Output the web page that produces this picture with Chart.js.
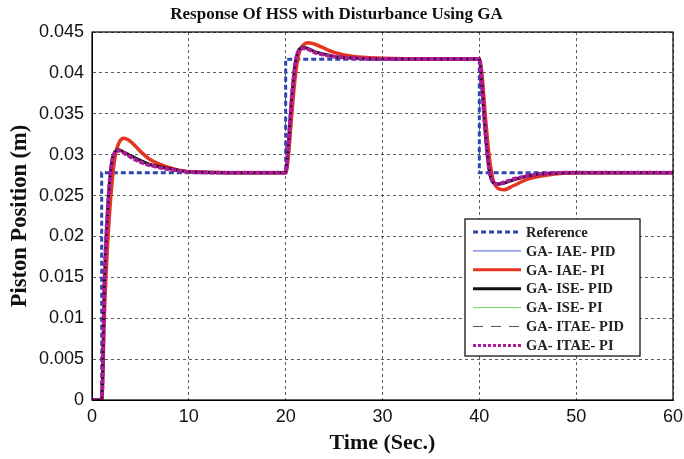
<!DOCTYPE html>
<html>
<head>
<meta charset="utf-8">
<script src="https://cdn.jsdelivr.net/npm/chart.js@4.4.0/dist/chart.umd.min.js"></script>
<style>
  html, body { margin: 0; padding: 0; background: #fff; }
  #wrap { width: 684px; height: 459px; }
</style>
</head>
<body>
<div id="wrap"><canvas id="hssChart" width="684" height="459"></canvas></div>
<script>
// step reference
var refTime = [0, 1, 1, 20, 20, 40, 40, 60];
var refVals = [0, 0, 0.02778, 0.02778, 0.04167, 0.04167, 0.02778, 0.02778];

// controller responses
var respTime = [0, 1, 1.3, 1.6, 2.0, 2.4, 2.8, 3.3, 4, 5, 6, 8, 10, 14, 20,
    20.3, 20.6, 21, 21.4, 21.8, 22.3, 23, 24, 25, 27, 30, 35, 40,
    40.3, 40.6, 41, 41.4, 41.9, 42.5, 43.5, 45, 47, 50, 60];
var iaePid = [0, 0, 0.0150, 0.0228, 0.0287, 0.0303, 0.0305, 0.0302, 0.0297, 0.0291, 0.0287, 0.0282, 0.0279, 0.0278, 0.0278,
    0.0316, 0.0366, 0.0412, 0.0428, 0.0431, 0.0429, 0.0425, 0.0422, 0.0420, 0.0418, 0.0417, 0.0417, 0.0417,
    0.0380, 0.0330, 0.0283, 0.0267, 0.0264, 0.0266, 0.0270, 0.0274, 0.0277, 0.0278, 0.0278];
var iaePi = [0, 0, 0.0112, 0.0188, 0.0257, 0.0299, 0.0315, 0.0320, 0.0316, 0.0304, 0.0294, 0.0284, 0.0279, 0.0278, 0.0278,
    0.0300, 0.0345, 0.0396, 0.0425, 0.0434, 0.0437, 0.0435, 0.0430, 0.0425, 0.0420, 0.0418, 0.0417, 0.0417,
    0.0395, 0.0350, 0.0300, 0.0270, 0.0259, 0.0257, 0.0262, 0.0270, 0.0275, 0.0278, 0.0278];
var isePid = [0, 0, 0.0152, 0.0230, 0.0288, 0.0304, 0.0306, 0.0303, 0.0299, 0.0293, 0.0288, 0.0283, 0.0279, 0.0278, 0.0278,
    0.0317, 0.0367, 0.0413, 0.0429, 0.0431, 0.0430, 0.0426, 0.0423, 0.0420, 0.0418, 0.0417, 0.0417, 0.0417,
    0.0379, 0.0329, 0.0282, 0.0266, 0.0264, 0.0265, 0.0269, 0.0274, 0.0277, 0.0278, 0.0278];
var isePi = [0, 0, 0.0148, 0.0226, 0.0286, 0.0302, 0.0305, 0.0302, 0.0297, 0.0291, 0.0287, 0.0282, 0.0279, 0.0278, 0.0278,
    0.0315, 0.0365, 0.0411, 0.0427, 0.0431, 0.0429, 0.0425, 0.0422, 0.0420, 0.0418, 0.0417, 0.0417, 0.0417,
    0.0381, 0.0331, 0.0284, 0.0267, 0.0264, 0.0266, 0.0270, 0.0274, 0.0277, 0.0278, 0.0278];
var itaePid = isePid;
var itaePi = [0, 0, 0.0151, 0.0229, 0.0287, 0.0303, 0.0305, 0.0302, 0.0297, 0.0291, 0.0287, 0.0282, 0.0279, 0.0278, 0.0278,
    0.0316, 0.0366, 0.0412, 0.0428, 0.0430, 0.0429, 0.0425, 0.0422, 0.0420, 0.0418, 0.0417, 0.0417, 0.0417,
    0.0380, 0.0330, 0.0283, 0.0267, 0.0264, 0.0266, 0.0270, 0.0274, 0.0277, 0.0278, 0.0278];

var xTicks = [0, 10, 20, 30, 40, 50, 60];
var yTicks = [0, 0.005, 0.01, 0.015, 0.02, 0.025, 0.03, 0.035, 0.04, 0.045];

function pts(ts, vs) {
    return ts.map(function (t, i) { return { x: t, y: vs[i] }; });
}

function series(label, vals, color, width, dash, order) {
    return {
        label: label,
        data: pts(respTime, vals),
        borderColor: color,
        backgroundColor: color,
        borderWidth: width,
        borderDash: dash,
        pointRadius: 0,
        cubicInterpolationMode: "monotone",
        order: order,
        fill: false
    };
}

var datasets = [
    {
        label: "Reference",
        data: pts(refTime, refVals),
        borderColor: "#3046b0",
        backgroundColor: "#3046b0",
        borderWidth: 3,
        borderDash: [5, 3],
        pointRadius: 0,
        tension: 0,
        order: 6,
        fill: false
    },
    series("GA- IAE- PID", iaePid, "#4b5fd6", 1, [], 4),
    series("GA- IAE- PI", iaePi, "#e5341f", 3.5, [], 5),
    series("GA- ISE- PID", isePid, "#111111", 3, [], 1),
    series("GA- ISE- PI", isePi, "#6ee05a", 1, [], 3),
    series("GA- ITAE- PID", itaePid, "#555555", 1.2, [10, 8], 2),
    series("GA- ITAE- PI", itaePi, "#b3199f", 3.8, [5, 1.5], 0)
];

// box around plot + legend inside the axes, matlab style
var boxLegend = {
    id: "boxLegend",
    afterDatasetsDraw: function (chart) {
        var ctx = chart.ctx, a = chart.chartArea;
        ctx.save();
        ctx.strokeStyle = "#000";
        ctx.lineWidth = 1.2;
        ctx.setLineDash([]);
        ctx.strokeRect(a.left, a.top, a.right - a.left, a.bottom - a.top);

        var bx = 465, by = 219, bw = 175, bh = 137;
        ctx.fillStyle = "#fff";
        ctx.fillRect(bx, by, bw, bh);
        ctx.strokeRect(bx, by, bw, bh);
        ctx.font = "bold 14.5px 'Liberation Serif', serif";
        ctx.textBaseline = "middle";
        chart.data.datasets.forEach(function (ds, i) {
            var y = 232 + i * 18.9;
            ctx.strokeStyle = ds.borderColor;
            ctx.lineWidth = Math.min(ds.borderWidth, 3);
            ctx.setLineDash(i === 6 ? [3, 2] : (ds.borderDash || []));
            ctx.beginPath();
            ctx.moveTo(473, y);
            ctx.lineTo(521, y);
            ctx.stroke();
            ctx.fillStyle = "#222";
            ctx.fillText(ds.label, 526, y + 1);
        });
        ctx.restore();
    }
};

new Chart(document.getElementById("hssChart").getContext("2d"), {
    type: "line",
    data: { datasets: datasets },
    options: {
        responsive: false,
        animation: false,
        layout: { padding: { left: 0, right: 11, top: 0, bottom: 0 } },
        plugins: {
            legend: { display: false },
            tooltip: { enabled: false },
            title: {
                display: true,
                text: "Response Of HSS with Disturbance Using GA",
                color: "#111",
                font: { family: "'Liberation Serif', serif", size: 17, weight: "bold" },
                padding: { top: 4, bottom: 7.6 }
            }
        },
        scales: {
            x: {
                type: "linear",
                min: 0,
                max: 60,
                afterBuildTicks: function (s) { s.ticks = xTicks.map(function (v) { return { value: v }; }); },
                afterFit: function (s) { s.height = 59; s.paddingLeft = 0; s.paddingRight = 0; },
                ticks: {
                    color: "#111",
                    font: { family: "'Liberation Sans', Arial, sans-serif", size: 18 },
                    padding: 6,
                    maxRotation: 0
                },
                grid: {
                    color: "#333",
                    lineWidth: 0.8,
                    drawTicks: false
                },
                border: { display: true, color: "#000", dash: [3, 3] },
                title: {
                    display: true,
                    text: "Time (Sec.)",
                    color: "#111",
                    font: { family: "'Liberation Serif', serif", size: 22, weight: "bold" },
                    padding: { top: 0, bottom: 2 }
                }
            },
            y: {
                type: "linear",
                min: 0,
                max: 0.045,
                afterBuildTicks: function (s) { s.ticks = yTicks.map(function (v) { return { value: v }; }); },
                afterFit: function (s) { s.width = 92; },
                ticks: {
                    color: "#111",
                    font: { family: "'Liberation Sans', Arial, sans-serif", size: 18 },
                    padding: 8,
                    callback: function (v) { return String(+v.toFixed(3)); }
                },
                grid: {
                    color: "#333",
                    lineWidth: 0.8,
                    drawTicks: false
                },
                border: { display: true, color: "#000", dash: [3, 3] },
                title: {
                    display: true,
                    text: "Piston Position (m)",
                    color: "#111",
                    font: { family: "'Liberation Serif', serif", size: 22.5, weight: "bold" },
                    padding: { top: 7, bottom: 0 }
                }
            }
        }
    },
    plugins: [boxLegend]
});
</script>
</body>
</html>
